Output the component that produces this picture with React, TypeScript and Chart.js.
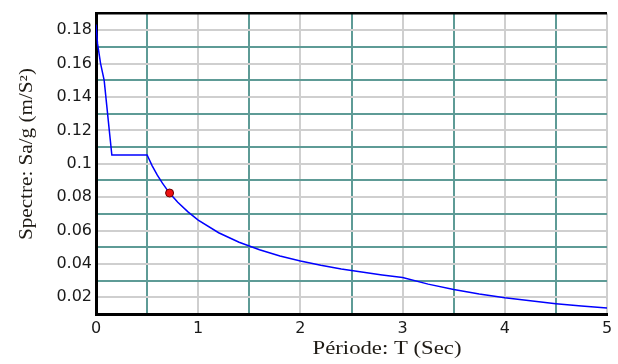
import React, { useEffect, useRef } from "react";
import { Chart, registerables } from "chart.js";

Chart.register(...registerables);

// Spectrum curve
const periods = [0, 0.015, 0.045, 0.08, 0.105, 0.13, 0.155, 0.5, 0.55, 0.6, 0.65, 0.7, 0.75, 0.8, 0.9, 1.0, 1.2, 1.4, 1.6, 1.8, 2.0, 2.2, 2.4, 2.6, 2.8, 3.0, 3.25, 3.5, 3.75, 4.0, 4.25, 4.5, 4.75, 5.0];
const spectrum = [0.1835, 0.172, 0.16, 0.15, 0.135, 0.12, 0.1053, 0.1053, 0.0988, 0.0932, 0.0884, 0.0841, 0.0804, 0.077, 0.0712, 0.0663, 0.0587, 0.053, 0.0485, 0.0448, 0.0418, 0.0392, 0.037, 0.0351, 0.0334, 0.0319, 0.0279, 0.0247, 0.022, 0.0197, 0.0179, 0.0162, 0.0148, 0.0136];

// Marked point
const markerT = [0.72];
const markerSa = [0.0825];

const xTitle = "Période: T (Sec)";
const yTitle = "Spectre: Sa/g (m/S²)";

const GRAY = "#cfcfcf";
const TEAL = "#5e9b96";

const titlePlugin = {
  id: "axisTitles",
  afterDraw(chart: any) {
    const ctx = chart.ctx as CanvasRenderingContext2D;
    ctx.save();
    ctx.font = '18px "Liberation Serif"';
    ctx.fillStyle = "#1e1a14";
    ctx.textAlign = "center";
    ctx.textBaseline = "middle";
    // x title
    let w = ctx.measureText(xTitle).width;
    ctx.save();
    ctx.translate(387, 349);
    ctx.scale(149 / w, 1);
    ctx.fillText(xTitle, 0, 0);
    ctx.restore();
    // y title
    w = ctx.measureText(yTitle).width;
    ctx.save();
    ctx.translate(27, 154);
    ctx.rotate(-Math.PI / 2);
    ctx.scale(172 / w, 1);
    ctx.fillText(yTitle, 0, 0);
    ctx.restore();
    ctx.restore();
  },
};

export default function App() {
  const ref = useRef<HTMLCanvasElement>(null);
  useEffect(() => {
    if (!ref.current) return;
    const chart = new Chart(ref.current, {
      type: "line",
      data: {
        datasets: [
          {
            data: markerT.map((t, i) => ({ x: t, y: markerSa[i] })),
            showLine: false,
            pointRadius: 4,
            pointBackgroundColor: "#ee1111",
            pointBorderColor: "#6a0000",
            pointBorderWidth: 1,
            order: 0,
          },
          {
            data: periods.map((t, i) => ({ x: t, y: spectrum[i] })),
            borderColor: "#0000ff",
            borderWidth: 1.5,
            pointRadius: 0,
            tension: 0,
            fill: false,
            order: 1,
          },
        ],
      },
      options: {
        animation: false,
        responsive: false,
        layout: { padding: { left: 0, top: 5, right: 11, bottom: 0 } },
        plugins: { legend: { display: false }, tooltip: { enabled: false } },
        scales: {
          x: {
            type: "linear",
            min: 0,
            max: 5,
            afterFit: (s: any) => {
              s.height = 50;
            },
            ticks: {
              stepSize: 0.5,
              autoSkip: false,
              maxRotation: 0,
              padding: 5,
              color: "#1a1a1a",
              font: { family: "DejaVu Sans", size: 16 },
              callback: (v: any) => {
                const k = Math.round(Number(v) * 2);
                return k % 2 === 0 ? String(k / 2) : "";
              },
            },
            grid: {
              drawTicks: false,
              lineWidth: 2,
              color: (c: any) => {
                const k = Math.round(c.tick.value * 2);
                return k % 2 === 0 ? GRAY : TEAL;
              },
            },
            border: { color: "#000", width: 3 },
          },
          y: {
            type: "linear",
            min: 0.01,
            max: 0.19,
            afterFit: (s: any) => {
              s.width = 96;
            },
            ticks: {
              stepSize: 0.01,
              autoSkip: false,
              padding: 4,
              color: "#1a1a1a",
              font: { family: "DejaVu Sans", size: 16 },
              callback: (v: any) => {
                const k = Math.round(Number(v) * 100);
                return k % 2 === 0 ? String(k / 100) : "";
              },
            },
            grid: {
              drawTicks: false,
              lineWidth: (c: any) => {
                const k = Math.round(c.tick.value * 100);
                return k === 19 ? 2.5 : 2;
              },
              color: (c: any) => {
                const k = Math.round(c.tick.value * 100);
                if (k === 19 || k === 1) return "#000";
                return k % 2 === 0 ? GRAY : TEAL;
              },
            },
            border: { color: "#000", width: 3 },
          },
        },
      },
      plugins: [titlePlugin],
    });
    return () => chart.destroy();
  }, []);
  return (
    <div style={{ position: "absolute", left: 0, top: 0, width: 618, height: 364, background: "#fff" }}>
      <canvas ref={ref} width={618} height={364} />
    </div>
  );
}
